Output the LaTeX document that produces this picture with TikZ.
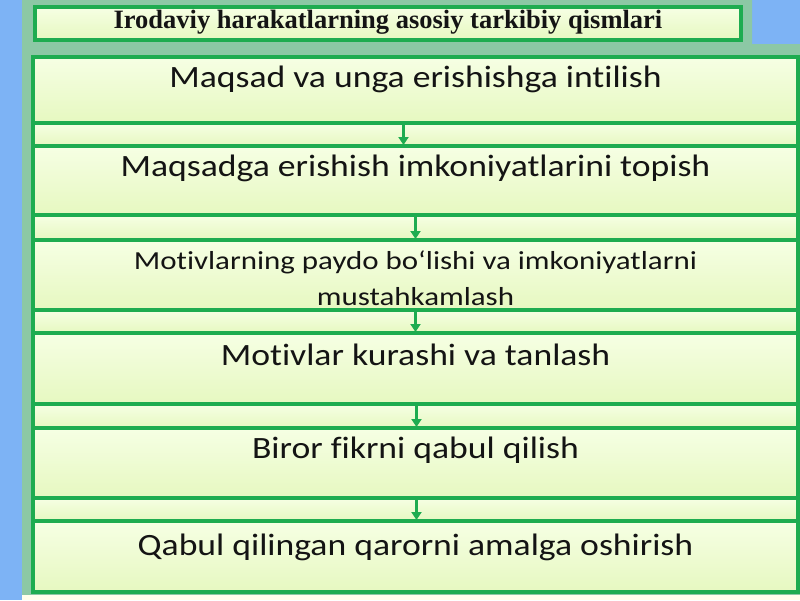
\documentclass[tikz,border=0pt]{standalone}
\usepackage{fontspec}
\setmainfont[Ligatures={NoCommon}]{Carlito}
\newfontfamily\titlefont{Liberation Serif}
\usetikzlibrary{arrows.meta}
\definecolor{bgblue}{RGB}{125,179,245}
\definecolor{panel}{RGB}{140,200,165}
\definecolor{frame}{RGB}{30,172,80}
\definecolor{filltop}{RGB}{246,255,228}
\definecolor{fillbot}{RGB}{230,248,192}
\definecolor{txt}{RGB}{20,20,20}
\newcommand{\sxa}[1]{\scalebox{1.15}[1]{#1}}
\newcommand{\sxb}[1]{\scalebox{1.19}[1]{#1}}
\tikzset{
  box/.style={draw=frame, line width=4pt, top color=filltop, bottom color=fillbot,
    inner sep=0pt, outer sep=0pt, anchor=north west, minimum width=765pt},
  strip/.style={box, minimum height=23pt},
  lbl/.style={text=txt, font=\fontsize{31}{36}\selectfont, inner sep=0pt, align=center},
  lblsmall/.style={lbl, font=\fontsize{26}{36}\selectfont},
  arr/.style={draw=frame, line width=2.5pt, -{Triangle[length=8pt,width=10pt]}, shorten >=1pt},
}
\begin{document}
\begin{tikzpicture}[x=1pt,y=-1pt]
\useasboundingbox (0,0) rectangle (800,600);
\fill[bgblue] (0,0) rectangle (800,600);
\fill[panel] (22,0) -- (752,0) -- (752,44) -- (800,44) -- (800,595) -- (22,595) -- cycle;
\fill[white!92!yellow] (22,595) rectangle (800,600);
% title
\node[box, minimum width=706pt, minimum height=33pt] (title) at (35,7) {};
\node[text=txt, inner sep=0pt, font=\titlefont\bfseries\fontsize{26.5}{28}\selectfont] (tt) at ([yshift=1pt]title.center) {Irodaviy harakatlarning asosiy tarkibiy qismlari};
% boxes
\node[box, minimum height=66pt] (b1) at (33,57) {};
\node[strip] (s1) at (33,123) {};
\node[box, minimum height=69pt] (b2) at (33,146) {};
\node[strip, minimum height=25pt] (s2) at (33,215) {};
\node[box, minimum height=70pt] (b3) at (33,240) {};
\node[strip] (s3) at (33,310) {};
\node[box, minimum height=71pt] (b4) at (33,333) {};
\node[strip, minimum height=24pt] (s4) at (33,404) {};
\node[box, minimum height=70pt] (b5) at (33,428) {};
\node[strip] (s5) at (33,498) {};
\node[box, minimum height=71pt] (b6) at (33,521) {};
% texts
\node[lbl] (t1) at ([yshift=-22pt]b1.north) {\sxa{Maqsad va unga erishishga intilish}};
\node[lbl] (t2) at ([yshift=-22pt]b2.north) {\sxa{Maqsadga erishish imkoniyatlarini topish}};
\node[lblsmall] (t3) at ([yshift=-38pt]b3.north) {\sxb{Motivlarning paydo bo‘lishi va imkoniyatlarni}\\\sxb{mustahkamlash}};
\node[lbl] (t4) at ([yshift=-22pt]b4.north) {\sxa{Motivlar kurashi va tanlash}};
\node[lbl] (t5) at ([yshift=-22pt]b5.north) {\sxa{Biror fikrni qabul qilish}};
\node[lbl] (t6) at ([yshift=-26pt]b6.north) {\sxa{Qabul qilingan qarorni amalga oshirish}};
% arrows
\draw[arr] ([xshift=-12pt]b1.south) -- ([xshift=-12pt]b2.north);
\draw[arr] (b2.south) -- (b3.north);
\draw[arr] (b3.south) -- (b4.north);
\draw[arr] ([xshift=1pt]b4.south) -- ([xshift=1pt]b5.north);
\draw[arr] ([xshift=1pt]b5.south) -- ([xshift=1pt]b6.north);
\end{tikzpicture}
\end{document}
